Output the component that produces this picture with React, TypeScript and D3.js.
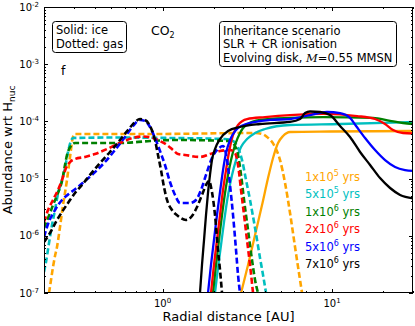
import React, { useEffect, useRef } from "react";
import * as d3 from "d3";

type Pt = [number, number];

// radial distance [AU], abundance wrt H -- solid = ice, dashed = gas
const ice1e5: Pt[] = [[2.904, 1e-7], [3.193, 3.09e-7], [3.512, 1.03e-6], [3.862, 3.45e-6], [4.191, 1.02e-5], [4.484, 2.29e-5], [4.8, 4.19e-5], [5.137, 5.56e-5], [5.649, 6.53e-5], [9.73, 6.66e-5], [30, 6.8e-5]];
const gas1e5: Pt[] = [[0.2141, 1e-7], [0.22, 1.69e-7], [0.226, 2.85e-7], [0.2322, 4.43e-7], [0.2386, 6.37e-7], [0.2485, 1.42e-6], [0.2589, 3.45e-6], [0.2722, 8.72e-6], [0.2847, 2.39e-5], [0.2965, 5.34e-5], [0.3046, 6.02e-5], [0.8435, 6.02e-5], [3.512, 6.27e-5], [3.862, 6.02e-5], [4.134, 5.34e-5], [4.608, 3.57e-5], [4.932, 2.11e-5], [5.279, 8.38e-6], [5.649, 2.5e-6], [6.046, 6.37e-7], [6.471, 1.69e-7], [6.65, 1e-7]];

const ice5e5: Pt[] = [[2.039, 1e-7], [2.124, 2.74e-7], [2.213, 6.9e-7], [2.305, 1.74e-6], [2.434, 5.17e-6], [2.57, 1.16e-5], [2.713, 2.11e-5], [2.904, 3.57e-5], [3.15, 4.92e-5], [3.512, 6.27e-5], [4.022, 7.36e-5], [5.649, 8.65e-5], [11.14, 9.01e-5], [30, 9.77e-5]];
const gas5e5: Pt[] = [[0.2, 2.33e-7], [0.2055, 3.49e-7], [0.2141, 7.48e-7], [0.223, 1.54e-6], [0.2322, 2.82e-6], [0.2418, 5.38e-6], [0.2554, 9.45e-6], [0.266, 1.53e-5], [0.277, 2.92e-5], [0.2965, 5.13e-5], [0.5613, 5.23e-5], [1.107, 5.13e-5], [2.337, 4.92e-5], [2.605, 4.54e-5], [2.788, 3.43e-5], [2.943, 2.11e-5], [3.108, 9.45e-6], [3.281, 4.23e-6], [3.512, 1.37e-6], [3.758, 4.09e-7], [3.915, 2.06e-7], [4.078, 1e-7]];

const ice1e6: Pt[] = [[1.984, 1e-7], [2.067, 3.09e-7], [2.153, 8.44e-7], [2.243, 2.31e-6], [2.337, 5.6e-6], [2.434, 1.16e-5], [2.535, 2.11e-5], [2.677, 3.87e-5], [2.864, 6.27e-5], [3.108, 8.65e-5], [3.758, 1.06e-4], [5.649, 1.15e-4], [8.845, 1.19e-4], [17.44, 1.15e-4], [21.98, 1.02e-4], [26.22, 9.38e-5], [30, 9.01e-5]];
const gas1e6: Pt[] = [[0.2, 1.37e-6], [0.2055, 1.67e-6], [0.217, 2.5e-6], [0.226, 3.45e-6], [0.2418, 5.6e-6], [0.2554, 9.08e-6], [0.266, 1.73e-5], [0.2733, 2.59e-5], [0.2886, 3.72e-5], [0.3046, 4.19e-5], [0.5613, 4.19e-5], [0.8435, 4.54e-5], [1.185, 4.73e-5], [2.5, 4.54e-5], [2.677, 3.72e-5], [2.788, 2.59e-5], [2.904, 1.16e-5], [3.025, 4.23e-6], [3.193, 1.26e-6], [3.371, 3.78e-7], [3.512, 1.69e-7], [3.658, 1e-7]];

const ice2e6: Pt[] = [[1.931, 1e-7], [2.011, 3.09e-7], [2.095, 8.44e-7], [2.183, 2.31e-6], [2.274, 6.32e-6], [2.369, 1.41e-5], [2.468, 2.92e-5], [2.605, 5.78e-5], [2.788, 8.65e-5], [3.15, 1.1e-4], [4.022, 1.19e-4], [5.649, 1.29e-4], [8.845, 1.35e-4], [14.04, 1.24e-4], [17.92, 1.1e-4], [20.53, 9.01e-5], [22.89, 7.07e-5], [26.22, 6.27e-5], [30, 6.15e-5]];
const gas2e6: Pt[] = [[0.2, 1.74e-6], [0.2112, 2.82e-6], [0.226, 4.23e-6], [0.2418, 6.32e-6], [0.2554, 9.45e-6], [0.2696, 1.53e-5], [0.2847, 1.95e-5], [0.3046, 2.2e-5], [0.3489, 2.39e-5], [0.3997, 2.69e-5], [0.4705, 3.29e-5], [0.5613, 4.19e-5], [0.6698, 5.13e-5], [0.7672, 5.44e-5], [0.8786, 5.13e-5], [0.9663, 4.54e-5], [1.063, 3.87e-5], [1.153, 3.16e-5], [1.234, 2.69e-5], [1.357, 2.59e-5], [1.663, 2.39e-5], [1.905, 2.69e-5], [2.183, 3.04e-5], [2.5, 3.16e-5], [2.677, 2.8e-5], [2.788, 1.73e-5], [2.904, 6.32e-6], [3.025, 2.31e-6], [3.15, 8.44e-7], [3.281, 3.09e-7], [3.418, 1e-7]];

const ice5e6: Pt[] = [[1.854, 1e-7], [1.931, 3.09e-7], [2.011, 8.44e-7], [2.095, 2.31e-6], [2.183, 5.83e-6], [2.274, 1.41e-5], [2.369, 2.8e-5], [2.5, 4.73e-5], [2.713, 7.07e-5], [3.108, 9.01e-5], [4.305, 1.06e-4], [5.649, 1.1e-4], [7.413, 1.29e-4], [9.34, 1.46e-4], [11.14, 1.4e-4], [12.76, 1.15e-4], [13.85, 8.31e-5], [15.65, 5.13e-5], [17.92, 3.16e-5], [20.53, 2.11e-5], [23.52, 1.6e-5], [26.94, 1.41e-5], [30, 1.36e-5]];
const gas5e6: Pt[] = [[0.2, 9.52e-7], [0.2112, 1.61e-6], [0.2322, 2.82e-6], [0.2554, 4.23e-6], [0.2847, 5.6e-6], [0.3173, 7.14e-6], [0.3489, 9.08e-6], [0.3997, 1.3e-5], [0.4578, 1.95e-5], [0.5243, 3.16e-5], [0.6008, 5.34e-5], [0.6698, 8.31e-5], [0.7365, 1.06e-4], [0.788, 1.02e-4], [0.8435, 7.98e-5], [0.9028, 5.13e-5], [0.9663, 3.04e-5], [1.034, 1.73e-5], [1.107, 8.72e-6], [1.185, 5.17e-6], [1.268, 3.74e-6], [1.453, 3.74e-6], [1.576, 4.23e-6], [1.686, 6.32e-6], [1.805, 1.16e-5], [1.957, 2.29e-5], [2.124, 3.29e-5], [2.274, 3.72e-5], [2.402, 2.11e-5], [2.5, 7.73e-6], [2.605, 2.31e-6], [2.713, 5.64e-7], [2.788, 2.06e-7], [2.864, 1e-7]];

const ice7e6: Pt[] = [[1.663, 1e-7], [1.709, 3.09e-7], [1.757, 8.44e-7], [1.805, 2.31e-6], [1.854, 5.6e-6], [1.905, 1.16e-5], [1.957, 2.11e-5], [2.039, 3.29e-5], [2.183, 4.92e-5], [2.434, 6.8e-5], [2.864, 7.98e-5], [3.758, 9.01e-5], [5.649, 9.77e-5], [6.471, 1.1e-4], [6.927, 1.4e-4], [7.413, 1.49e-4], [8.492, 1.46e-4], [9.728, 1.29e-4], [11.14, 8.31e-5], [12.76, 5.34e-5], [14.62, 2.92e-5], [16.75, 1.73e-5], [19.18, 1.02e-5], [21.98, 6.85e-6], [25.18, 5.17e-6], [30, 4.51e-6]];
const gas7e6: Pt[] = [[0.2, 7.79e-7], [0.217, 1.12e-6], [0.2386, 1.89e-6], [0.2554, 2.61e-6], [0.277, 3.74e-6], [0.3046, 5.6e-6], [0.335, 7.73e-6], [0.3735, 1.16e-5], [0.4277, 1.87e-5], [0.4899, 2.92e-5], [0.5613, 4.73e-5], [0.6258, 7.07e-5], [0.6882, 9.77e-5], [0.7365, 1.1e-4], [0.788, 1.06e-4], [0.8435, 8.31e-5], [0.9028, 4.73e-5], [0.9404, 2.59e-5], [0.9795, 1.41e-5], [1.02, 7.14e-6], [1.063, 4.23e-6], [1.137, 2.82e-6], [1.234, 2.22e-6], [1.375, 1.89e-6], [1.492, 2.22e-6], [1.597, 3.18e-6], [1.709, 5.17e-6], [1.805, 7.73e-6], [1.88, 9.08e-6], [1.957, 5.83e-6], [2.039, 2.31e-6], [2.124, 5.64e-7], [2.183, 2.52e-7], [2.243, 1e-7]];

const runLabels = ["1x10", "5x10", "1x10", "2x10", "5x10", "7x10"];
const runExps = ["5", "5", "6", "6", "6", "6"];
const runColors = ["#ffa500", "#00bfbf", "#008000", "#ff0000", "#0000ff", "#000000"];
const iceSeries = [ice1e5, ice5e5, ice1e6, ice2e6, ice5e6, ice7e6];
const gasSeries = [gas1e5, gas5e5, gas1e6, gas2e6, gas5e6, gas7e6];

const xDomain: [number, number] = [0.2, 30];
const yDomain: [number, number] = [1e-7, 1e-2];
const xMajor = [1, 10];
const xMajorExps = ["0", "1"];
const yMajor = [1e-7, 1e-6, 1e-5, 1e-4, 1e-3, 1e-2];
const yMajorExps = ["-7", "-6", "-5", "-4", "-3", "-2"];

const phaseNote = ["Solid: ice", "Dotted: gas"];
const scenarioNote = ["Inheritance scenario", "SLR + CR ionisation"];

const W = 415;
const H = 326;
const FONT = "'DejaVu Sans', sans-serif";

export default function App() {
  const ref = useRef<SVGSVGElement>(null);

  useEffect(() => {
    const svg = d3.select(ref.current);
    svg.selectAll("*").remove();

    const left = 44, right = 413, top = 7, bottom = 293;
    const x = d3.scaleLog().domain(xDomain).range([left, right]);
    const y = d3.scaleLog().domain(yDomain).range([bottom, top]);

    svg.append("rect").attr("width", W).attr("height", H).attr("fill", "#fff");

    svg
      .append("clipPath")
      .attr("id", "plot-clip")
      .append("rect")
      .attr("x", left)
      .attr("y", top)
      .attr("width", right - left)
      .attr("height", bottom - top);

    const line = d3
      .line<Pt>()
      .x(d => x(d[0]))
      .y(d => y(d[1]))
      .curve(d3.curveMonotoneX);

    const plot = svg.append("g").attr("clip-path", "url(#plot-clip)");
    iceSeries.forEach((ice, i) => {
      plot
        .append("path")
        .attr("d", line(ice))
        .attr("fill", "none")
        .attr("stroke", runColors[i])
        .attr("stroke-width", 2.3);
      plot
        .append("path")
        .attr("d", line(gasSeries[i]))
        .attr("fill", "none")
        .attr("stroke", runColors[i])
        .attr("stroke-width", 2.6)
        .attr("stroke-dasharray", "6,3");
    });

    // frame + inward ticks on all four sides
    const axes = svg.append("g").attr("stroke", "#000").attr("stroke-width", 1);
    axes
      .append("rect")
      .attr("x", left + 0.5)
      .attr("y", top + 0.5)
      .attr("width", right - left - 1)
      .attr("height", bottom - top - 1)
      .attr("fill", "none");

    const isMajor = (v: number) => Math.abs(Math.log10(v) - Math.round(Math.log10(v))) < 1e-6;
    x.ticks().forEach(v => {
      const px = Math.round(x(v)) + 0.5;
      const len = isMajor(v) ? 4 : 2;
      axes.append("line").attr("x1", px).attr("x2", px).attr("y1", bottom).attr("y2", bottom - len);
      axes.append("line").attr("x1", px).attr("x2", px).attr("y1", top).attr("y2", top + len);
    });
    y.ticks().forEach(v => {
      const py = Math.round(y(v)) + 0.5;
      const len = isMajor(v) ? 4 : 2;
      axes.append("line").attr("y1", py).attr("y2", py).attr("x1", left).attr("x2", left + len);
      axes.append("line").attr("y1", py).attr("y2", py).attr("x1", right).attr("x2", right - len);
    });

    // note boxes (drawn before the text that sits in them)
    svg
      .append("rect")
      .attr("x", 52.5)
      .attr("y", 21.5)
      .attr("width", 74)
      .attr("height", 31)
      .attr("rx", 3)
      .attr("fill", "#fff")
      .attr("stroke", "#000");
    svg
      .append("rect")
      .attr("x", 219.5)
      .attr("y", 21.5)
      .attr("width", 177)
      .attr("height", 45)
      .attr("rx", 3)
      .attr("fill", "#fff")
      .attr("stroke", "#000");

    const labels = svg.append("g").attr("font-family", FONT).attr("fill", "#000");

    xMajor.forEach((v, i) => {
      const t = labels
        .append("text")
        .attr("x", x(v))
        .attr("y", 307)
        .attr("text-anchor", "middle")
        .attr("font-size", 10);
      t.append("tspan").text("10");
      t.append("tspan").attr("dy", -4).attr("font-size", 7).text(xMajorExps[i]);
    });
    yMajor.forEach((v, i) => {
      const t = labels
        .append("text")
        .attr("x", 39)
        .attr("y", y(v) + 3.5)
        .attr("text-anchor", "end")
        .attr("font-size", 10);
      t.append("tspan").text("10");
      t.append("tspan").attr("dy", -4).attr("font-size", 7).text(yMajorExps[i]);
    });

    labels
      .append("text")
      .attr("x", (left + right) / 2)
      .attr("y", 321)
      .attr("text-anchor", "middle")
      .attr("font-size", 13)
      .text("Radial distance [AU]");

    const yl = labels
      .append("text")
      .attr("transform", `translate(12,${(top + bottom) / 2}) rotate(-90)`)
      .attr("text-anchor", "middle")
      .attr("font-size", 13);
    yl.append("tspan").text("Abundance wrt H");
    yl.append("tspan").attr("dy", 3).attr("font-size", 9).text("nuc");

    phaseNote.forEach((s, i) => {
      labels.append("text").attr("x", 56).attr("y", 34 + i * 13.5).attr("font-size", 11.5).text(s);
    });

    const co2 = labels.append("text").attr("x", 151).attr("y", 35).attr("font-size", 12.5);
    co2.append("tspan").text("CO");
    co2.append("tspan").attr("dy", 3).attr("font-size", 8).text("2");

    labels.append("text").attr("x", 61).attr("y", 75).attr("font-size", 12.5).text("f");

    scenarioNote.forEach((s, i) => {
      labels.append("text").attr("x", 223).attr("y", 34.5 + i * 13.5).attr("font-size", 11.5).text(s);
    });
    const ev = labels.append("text").attr("x", 223).attr("y", 61.5).attr("font-size", 11.5);
    ev.append("tspan").text("Evolving disk, ");
    ev.append("tspan").attr("font-family", "'DejaVu Serif', serif").attr("font-style", "italic").text("M");
    ev.append("tspan").text("=0.55 MMSN");

    // run legend
    runLabels.forEach((s, i) => {
      const t = labels
        .append("text")
        .attr("x", 305)
        .attr("y", 181 + i * 17.4)
        .attr("font-size", 11.5)
        .attr("fill", runColors[i]);
      t.append("tspan").text(s);
      t.append("tspan").attr("dy", -5).attr("font-size", 8).text(runExps[i]);
      t.append("tspan").attr("dy", 5).text(" yrs");
    });
  }, []);

  return (
    <svg
      ref={ref}
      width={W}
      height={H}
      style={{ position: "absolute", left: 0, top: 0 }}
    />
  );
}
